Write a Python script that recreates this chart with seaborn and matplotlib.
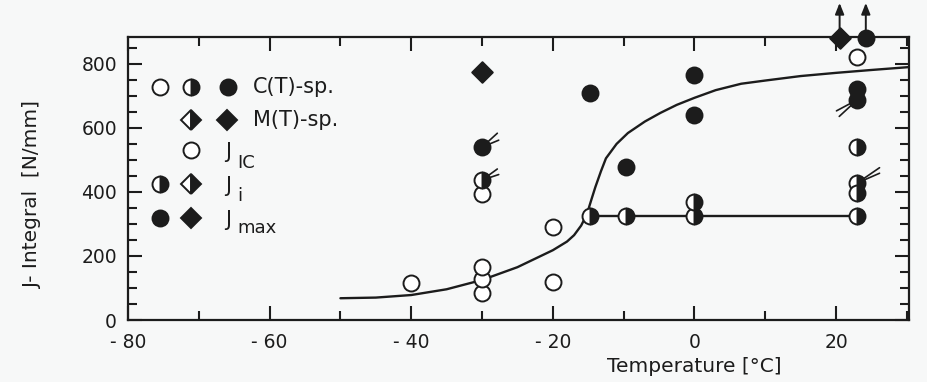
import matplotlib
matplotlib.use("Agg")
import matplotlib.pyplot as plt
from matplotlib.transforms import offset_copy
import seaborn as sns
import pandas as pd

# ---------------- data ----------------
# C(T) specimens, J_IC (open circles)
ct_jic_x = [-40, -30, -30, -30, -30, -20, -20, 23]
ct_jic_y = [115, 85, 128, 165, 393, 120, 290, 822]
# C(T) specimens, J_i (half-filled circles)
ct_ji_x = [-30, -14.7, -9.7, 0, 0, 23, 23, 23, 23]
ct_ji_y = [437, 325, 325, 325, 369, 541, 428, 397, 325]
# C(T) specimens, J_max (filled circles)
ct_jmax_x = [-30, -14.7, -9.7, 0, 0, 23, 23, 24.2]
ct_jmax_y = [540, 710, 478, 765, 640, 722, 688, 882]
# M(T) specimens, J_max (filled diamonds)
mt_jmax_x = [-30, 20.5]
mt_jmax_y = [775, 882]

# fitted J_IC / J_max curve and J_i level line
fit_x = [-50, -45, -40, -35, -30, -25, -20, -18, -17, -16, -15.2, -14.5, -14,
         -13.2, -12.5, -11, -9.4, -7, -4.8, -2.5, 0, 3, 6.6, 10, 15, 20, 25, 30.3]
fit_y = [68, 70, 78, 96, 125, 165, 218, 245, 265, 295, 330, 380, 415,
         465, 505, 550, 584, 620, 647, 672, 694, 718, 738, 748, 762, 772, 781, 790]
lvl_x = [-14.7, 23]
lvl_y = [325, 325]

x_ticks = [-80, -60, -40, -20, 0, 20]
x_ticklabels = ["- 80", "- 60", "- 40", "- 20", "0", "20"]
y_ticks = [0, 200, 400, 600, 800]

# points carrying an upward arrow (value beyond the plotted range)
up_x = [20.5, 24.2]
up_y = [882, 882]

# ---------------- style ----------------
sns.set_theme(style="ticks")
plt.rcParams["font.family"] = ["DejaVu Sans"]

INK = "#1c1c1c"
BG = "#f7f8f8"
W, H = 928, 382

fig = plt.figure(figsize=(W / 100, H / 100), dpi=100, facecolor=BG)
L, R, T, B = 128, 909, 37, 320
ax = fig.add_axes([L / W, 1 - B / H, (R - L) / W, (B - T) / H])
ax.set_facecolor(BG)

# curves
sns.lineplot(data=pd.DataFrame({"x": fit_x, "y": fit_y}), x="x", y="y",
             sort=False, color=INK, lw=1.7, ax=ax, zorder=2)
sns.lineplot(data=pd.DataFrame({"x": lvl_x, "y": lvl_y}), x="x", y="y",
             sort=False, color=INK, lw=1.7, ax=ax, zorder=2)

MS = 11.5
MEW = 1.4
# open circles
ax.plot(ct_jic_x, ct_jic_y, ls="none", marker="o", ms=MS, mfc="white",
        mec=INK, mew=MEW, zorder=3, clip_on=False)
# half-filled circles
ax.plot(ct_ji_x, ct_ji_y, ls="none", marker="o", ms=MS, fillstyle="right",
        mfc=INK, markerfacecoloralt="white", mec=INK, mew=MEW, zorder=4,
        clip_on=False)
# filled circles
sns.scatterplot(x=ct_jmax_x, y=ct_jmax_y, marker="o", s=MS ** 2, color=INK,
                edgecolor=INK, linewidth=MEW, ax=ax, zorder=4, clip_on=False)
# filled diamonds
sns.scatterplot(x=mt_jmax_x, y=mt_jmax_y, marker="D", s=10.5 ** 2, color=INK,
                edgecolor=INK, linewidth=MEW, ax=ax, zorder=5, clip_on=False)

# upward arrows
for ux, uy in zip(up_x, up_y):
    tr = offset_copy(ax.transData, fig=fig, x=0, y=25, units="points")
    ax.annotate("", xy=(ux, uy), xycoords=tr, xytext=(ux, uy), textcoords="data",
                arrowprops=dict(arrowstyle="-|>,head_length=0.55,head_width=0.22",
                                color=INK, lw=1.4, shrinkA=4, shrinkB=0),
                annotation_clip=False, zorder=6)

# small double flags on some points
flags = [((-30, 540), [(11, 10), (12, 5)]),
         ((-30, 437), [(11, 8), (12, 4)]),
         ((23, 688), [(-15, -8), (-13, -12)]),
         ((23, 428), [(16, 11), (16, 7)])]
for (fx_, fy_), offs in flags:
    for dx, dy in offs:
        ax.annotate("", xy=(fx_, fy_), xytext=(dx, dy), textcoords="offset points",
                    arrowprops=dict(arrowstyle="-", color=INK, lw=1.2,
                                    shrinkA=0, shrinkB=5),
                    annotation_clip=False, zorder=6)

# axes
ax.set_xlim(-80, 30.3)
ax.set_ylim(0, 884)
ax.set_xticks(x_ticks)
ax.set_xticklabels(x_ticklabels)
ax.set_xticks(range(-70, 31, 10), minor=True)
ax.set_yticks(y_ticks)
ax.set_yticks(range(0, 851, 50), minor=True)
ax.tick_params(which="both", direction="in", top=True, right=True,
               color=INK, width=1.5, labelcolor=INK, labelsize=13.5)
ax.tick_params(which="major", length=10)
ax.tick_params(which="minor", length=6.5)
ax.tick_params(axis="x", pad=9)
ax.tick_params(axis="y", pad=8)
for s in ax.spines.values():
    s.set_color(INK)
    s.set_linewidth(1.6)
ax.set_xlabel("")
ax.set_ylabel("")

fig.text(33 / W, 1 - 195 / H, "J- Integral  [N/mm]", rotation=90,
         ha="center", va="center", fontsize=14.5, color=INK)
fig.text(694 / W, 1 - 366 / H, "Temperature [°C]", ha="center", va="center",
         fontsize=14.5, color=INK)

# legend drawn inside the axes
def fx(px):
    return px / W

def fy(py):
    return 1 - py / H

def mark(px, py, kind):
    kw = dict(transform=fig.transFigure, clip_on=False, ls="none", mec=INK,
              mew=MEW, zorder=7)
    if kind == "open":
        ax.plot(fx(px), fy(py), marker="o", ms=MS, mfc="white", **kw)
    elif kind == "half":
        ax.plot(fx(px), fy(py), marker="o", ms=MS, fillstyle="right", mfc=INK,
                markerfacecoloralt="white", **kw)
    elif kind == "full":
        ax.plot(fx(px), fy(py), marker="o", ms=MS, mfc=INK, **kw)
    elif kind == "halfD":
        ax.plot(fx(px), fy(py), marker="D", ms=10.5, fillstyle="right", mfc=INK,
                markerfacecoloralt="white", **kw)
    elif kind == "fullD":
        ax.plot(fx(px), fy(py), marker="D", ms=10.5, mfc=INK, **kw)

mark(160, 87, "open"); mark(191, 87, "half"); mark(228, 87, "full")
mark(191, 120, "halfD"); mark(227, 120, "fullD")
mark(191, 150, "open")
mark(160, 184, "half"); mark(191, 184, "halfD")
mark(160, 218, "full"); mark(191, 218, "fullD")

lt = dict(fontsize=15, color=INK, ha="left")
fig.text(fx(253), fy(87), "C(T)-sp.", va="center", **lt)
fig.text(fx(253), fy(120), "M(T)-sp.", va="center", **lt)
# J with subscripts (subscripts drawn large, as in the reference)
sub = dict(fontsize=13, color=INK, ha="left", va="baseline")
fig.text(fx(225), fy(158), "J", va="baseline", **{k: v for k, v in lt.items()})
fig.text(fx(237), fy(168), "IC", **sub)
fig.text(fx(225), fy(192), "J", va="baseline", **{k: v for k, v in lt.items()})
fig.text(fx(237), fy(201), "i", **sub)
fig.text(fx(225), fy(226), "J", va="baseline", **{k: v for k, v in lt.items()})
fig.text(fx(237), fy(233), "max", **sub)

fig.savefig("out.png", dpi=100, facecolor=BG)
